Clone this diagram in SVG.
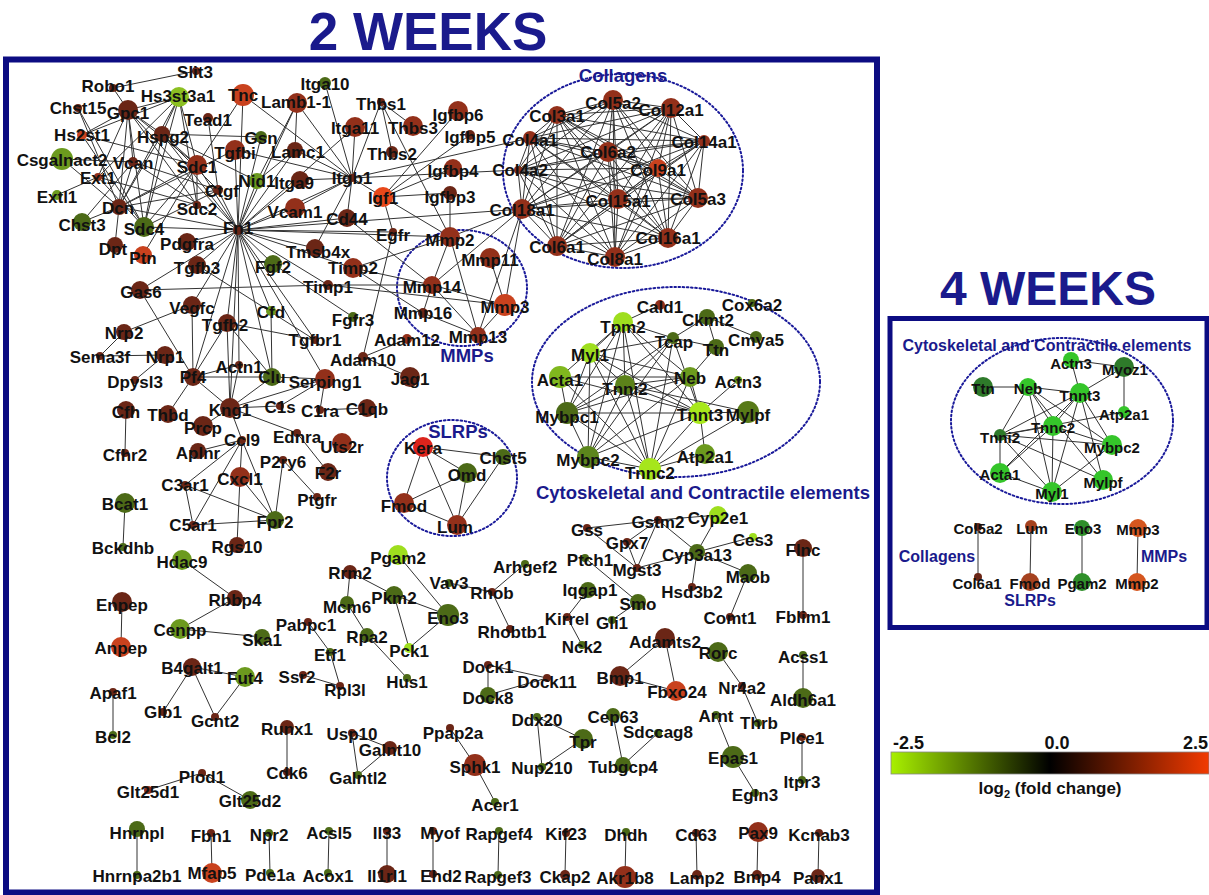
<svg xmlns="http://www.w3.org/2000/svg" width="1209" height="895" viewBox="0 0 1209 895">
<defs>
<linearGradient id="fc" x1="0" x2="1" y1="0" y2="0">
<stop offset="0" stop-color="#a8f000"/><stop offset="0.5" stop-color="#000"/><stop offset="1" stop-color="#f23a00"/>
</linearGradient>
<style>
text{font-family:"Liberation Sans",Arial,sans-serif;font-weight:bold}
.title{font-size:53px;fill:#1a1a8c;text-anchor:middle}
.panel{fill:none;stroke:#0c0c82;stroke-width:6}
.edges path{stroke:#333;stroke-width:1;fill:none}
.hull{fill:none;stroke:#1a1a9a;stroke-width:2;stroke-dasharray:1.6 2.6;stroke-linecap:round}
.glab{fill:#1a1a8c;text-anchor:middle;font-size:18.5px}
.glab4{fill:#1a1a8c;text-anchor:middle;font-size:16px}
.n2 text{font-size:17px;fill:#111;text-anchor:middle;dominant-baseline:central}
.n4 text{font-size:15px;fill:#111;text-anchor:middle;dominant-baseline:central}
.r1{fill:#6b2616}.r2{fill:#93301a}.r3{fill:#c9421e}.rk{fill:#dc241c}.ri{fill:#e8481a}
.g1{fill:#4c6a17}.g2{fill:#6c9a1e}.g3{fill:#9ede1e}
.w1{fill:#35c52a}.w2{fill:#2e7a2a}.w3{fill:#d5561f}.w4{fill:#a5421f}
.cb{font-size:18px;fill:#111}
</style>
</defs>
<rect width="1209" height="895" fill="#fff"/>
<text class="title" x="428" y="50">2 WEEKS</text>
<text class="title" x="1048" y="305" style="font-size:48px">4 WEEKS</text>
<rect class="panel" x="6" y="59.5" width="871" height="833"/>
<rect class="panel" x="890" y="318.5" width="317" height="309" style="stroke-width:5"/>
<g id="groups">
<ellipse class="hull" cx="623" cy="171" rx="120" ry="97"/>
<ellipse class="hull" cx="462" cy="288" rx="65" ry="58"/>
<ellipse class="hull" cx="452" cy="478" rx="65" ry="58"/>
<ellipse class="hull" cx="676" cy="382" rx="144" ry="95"/>
<ellipse class="hull" cx="1062" cy="421" rx="111" ry="83"/>
<text class="glab" x="623" y="82">Collagens</text>
<text class="glab" x="467" y="362">MMPs</text>
<text class="glab" x="458" y="438">SLRPs</text>
<text class="glab" x="703" y="499">Cytoskeletal and Contractile elements</text>
<text class="glab4" x="1047" y="351">Cytoskeletal and Contractile elements</text>
<text class="glab4" x="937" y="562">Collagens</text>
<text class="glab4" x="1164" y="562">MMPs</text>
<text class="glab4" x="1030" y="606">SLRPs</text>
</g>
<g id="connectors" class="edges">
<path d="M196 71L113 88"/><path d="M113 88L128 110"/>
<path d="M179 97L128 110"/><path d="M179 97L82 135"/><path d="M179 97L162 134"/><path d="M179 97L197 165"/><path d="M179 97L197 205"/><path d="M179 97L144 227"/><path d="M179 97L119 207"/><path d="M179 97L98 177"/>
<path d="M78 108L119 207"/><path d="M78 108L144 227"/>
<path d="M128 110L82 135"/><path d="M128 110L162 134"/><path d="M128 110L197 165"/><path d="M128 110L119 207"/><path d="M128 110L144 227"/><path d="M128 110L238 230"/><path d="M128 110L197 205"/><path d="M128 110L133 162"/>
<path d="M162 134L197 165"/><path d="M162 134L144 227"/><path d="M162 134L119 207"/><path d="M162 134L238 230"/><path d="M162 134L257 181"/><path d="M162 134L218 190"/><path d="M162 134L261 137"/>
<path d="M82 135L197 165"/><path d="M82 135L144 227"/>
<path d="M62 159L133 162"/><path d="M62 159L119 207"/>
<path d="M133 162L238 230"/><path d="M133 162L119 207"/><path d="M133 162L218 190"/>
<path d="M98 177L57 195"/><path d="M98 177L144 227"/><path d="M98 177L197 205"/><path d="M98 177L128 110"/>
<path d="M82 222L119 207"/><path d="M82 222L133 162"/>
<path d="M119 207L115 245"/><path d="M119 207L238 230"/><path d="M119 207L218 190"/><path d="M119 207L235 150"/><path d="M119 207L197 165"/>
<path d="M144 227L238 230"/><path d="M144 227L197 165"/><path d="M143 255L197 165"/><path d="M144 227L218 190"/>
<path d="M197 165L238 230"/><path d="M197 165L243 95"/><path d="M197 165L197 205"/><path d="M208 118L218 190"/>
<path d="M218 190L238 230"/><path d="M243 95L238 230"/><path d="M243 95L352 178"/>
<path d="M235 150L238 230"/><path d="M235 150L352 178"/><path d="M261 137L238 230"/>
<path d="M257 181L238 230"/><path d="M257 181L295 150"/><path d="M257 181L297 103"/>
<path d="M297 103L352 178"/><path d="M297 103L295 150"/><path d="M297 103L238 230"/>
<path d="M295 150L352 178"/><path d="M295 150L238 230"/>
<path d="M325 83L352 178"/><path d="M355 127L352 178"/><path d="M355 127L238 230"/>
<path d="M300 180L352 178"/><path d="M300 180L238 230"/><path d="M295 208L352 178"/><path d="M295 208L238 230"/>
<path d="M381 102L352 178"/><path d="M381 102L413 126"/><path d="M381 102L450 237"/><path d="M381 102L392 152"/>
<path d="M458 111L383 197"/><path d="M470 135L383 197"/><path d="M453 168L383 197"/><path d="M450 193L383 197"/><path d="M450 193L450 237"/>
<path d="M383 197L450 237"/><path d="M383 197L352 178"/><path d="M383 197L393 232"/>
<path d="M352 178L530 138"/><path d="M352 178L518 170"/><path d="M352 178L347 218"/><path d="M352 178L238 230"/><path d="M352 178L315 248"/>
<path d="M347 218L238 230"/><path d="M347 218L432 285"/>
<path d="M393 232L238 230"/><path d="M393 232L363 357"/><path d="M238 230L522 209"/>
<path d="M450 237L238 230"/><path d="M450 237L432 285"/><path d="M450 237L478 335"/><path d="M450 237L353 268"/><path d="M450 237L522 209"/>
<path d="M522 209L478 335"/><path d="M522 209L432 285"/><path d="M522 209L505 305"/><path d="M490 258L505 305"/>
<path d="M432 285L505 305"/><path d="M432 285L478 335"/><path d="M432 285L423 313"/><path d="M432 285L328 285"/><path d="M432 285L353 268"/>
<path d="M505 305L328 285"/><path d="M505 305L478 335"/><path d="M423 313L478 335"/><path d="M423 313L353 268"/>
<path d="M328 285L238 230"/><path d="M328 285L140 290"/><path d="M353 268L238 230"/><path d="M315 248L238 230"/>
<path d="M273 264L238 230"/><path d="M273 264L353 317"/>
<path d="M197 265L238 230"/><path d="M197 265L315 340"/><path d="M187 242L238 230"/>
<path d="M140 290L238 230"/><path d="M140 290L193 377"/>
<path d="M192 305L238 230"/><path d="M192 305L124 332"/><path d="M192 305L193 377"/>
<path d="M271 311L238 230"/><path d="M271 311L272 377"/>
<path d="M227 323L238 230"/><path d="M227 323L193 377"/><path d="M227 323L315 340"/><path d="M227 323L272 377"/><path d="M227 323L230 408"/>
<path d="M315 340L238 230"/>
<path d="M193 377L238 230"/><path d="M193 377L168 414"/><path d="M193 377L272 377"/><path d="M193 377L230 408"/><path d="M193 377L239 365"/>
<path d="M272 377L238 230"/><path d="M272 377L230 408"/><path d="M272 377L325 379"/>
<path d="M239 365L238 230"/><path d="M239 365L230 408"/>
<path d="M325 379L238 230"/><path d="M325 379L280 406"/><path d="M325 379L320 410"/><path d="M325 379L230 408"/>
<path d="M320 410L367 408"/><path d="M280 406L230 408"/>
<path d="M230 408L238 230"/><path d="M230 408L203 426"/><path d="M230 408L242 440"/><path d="M230 408L297 433"/>
<path d="M242 440L198 451"/><path d="M242 440L240 477"/><path d="M242 440L185 485"/><path d="M242 440L193 525"/><path d="M242 440L275 520"/>
<path d="M240 477L275 520"/><path d="M240 477L237 545"/><path d="M185 485L275 520"/><path d="M185 485L193 525"/><path d="M193 525L275 520"/>
<path d="M275 520L283 460"/><path d="M297 433L328 472"/><path d="M283 460L317 497"/>
<path d="M126 410L125 453"/><path d="M124 332L100 356"/><path d="M100 356L165 355"/><path d="M165 355L135 380"/>
<path d="M363 357L407 339"/><path d="M363 357L410 377"/><path d="M125 503L123 547"/>
<path d="M613 100L557 115"/><path d="M613 100L671 108"/><path d="M613 100L530 138"/><path d="M613 100L704 141"/><path d="M613 100L608 152"/><path d="M613 100L518 170"/><path d="M613 100L658 168"/><path d="M613 100L618 199"/><path d="M613 100L698 198"/><path d="M613 100L522 209"/><path d="M613 100L668 238"/><path d="M613 100L557 246"/><path d="M613 100L615 257"/>
<path d="M557 115L671 108"/><path d="M557 115L530 138"/><path d="M557 115L704 141"/><path d="M557 115L608 152"/><path d="M557 115L518 170"/><path d="M557 115L658 168"/><path d="M557 115L618 199"/><path d="M557 115L698 198"/><path d="M557 115L522 209"/><path d="M557 115L668 238"/><path d="M557 115L557 246"/><path d="M557 115L615 257"/>
<path d="M671 108L530 138"/><path d="M671 108L704 141"/><path d="M671 108L608 152"/><path d="M671 108L518 170"/><path d="M671 108L658 168"/><path d="M671 108L618 199"/><path d="M671 108L698 198"/><path d="M671 108L522 209"/><path d="M671 108L668 238"/><path d="M671 108L557 246"/><path d="M671 108L615 257"/>
<path d="M530 138L704 141"/><path d="M530 138L608 152"/><path d="M530 138L518 170"/><path d="M530 138L658 168"/><path d="M530 138L618 199"/><path d="M530 138L698 198"/><path d="M530 138L522 209"/><path d="M530 138L668 238"/><path d="M530 138L557 246"/><path d="M530 138L615 257"/>
<path d="M704 141L608 152"/><path d="M704 141L518 170"/><path d="M704 141L658 168"/><path d="M704 141L618 199"/><path d="M704 141L698 198"/><path d="M704 141L522 209"/><path d="M704 141L668 238"/><path d="M704 141L557 246"/><path d="M704 141L615 257"/>
<path d="M608 152L518 170"/><path d="M608 152L658 168"/><path d="M608 152L618 199"/><path d="M608 152L698 198"/><path d="M608 152L522 209"/><path d="M608 152L668 238"/><path d="M608 152L557 246"/><path d="M608 152L615 257"/>
<path d="M518 170L658 168"/><path d="M518 170L618 199"/><path d="M518 170L698 198"/><path d="M518 170L522 209"/><path d="M518 170L668 238"/><path d="M518 170L557 246"/><path d="M518 170L615 257"/>
<path d="M658 168L618 199"/><path d="M658 168L698 198"/><path d="M658 168L522 209"/><path d="M658 168L668 238"/><path d="M658 168L557 246"/><path d="M658 168L615 257"/>
<path d="M618 199L698 198"/><path d="M618 199L522 209"/><path d="M618 199L668 238"/><path d="M618 199L557 246"/><path d="M618 199L615 257"/>
<path d="M698 198L522 209"/><path d="M698 198L668 238"/><path d="M698 198L557 246"/><path d="M698 198L615 257"/>
<path d="M522 209L668 238"/><path d="M522 209L557 246"/><path d="M522 209L615 257"/>
<path d="M668 238L557 246"/><path d="M668 238L615 257"/><path d="M557 246L615 257"/>
<path d="M660 305L623 322"/><path d="M707 317L673 338"/><path d="M707 317L716 347"/><path d="M707 317L756 337"/>
<path d="M623 322L673 338"/><path d="M623 322L590 353"/><path d="M623 322L625 385"/><path d="M623 322L567 413"/><path d="M623 322L588 457"/><path d="M623 322L650 469"/><path d="M623 322L700 413"/><path d="M623 322L690 377"/>
<path d="M673 338L716 347"/><path d="M673 338L590 353"/><path d="M673 338L625 385"/><path d="M673 338L567 413"/><path d="M673 338L588 457"/><path d="M673 338L650 469"/><path d="M673 338L700 413"/>
<path d="M716 347L690 377"/>
<path d="M690 377L700 413"/><path d="M690 377L650 469"/><path d="M690 377L567 413"/><path d="M690 377L588 457"/><path d="M690 377L560 377"/><path d="M690 377L625 385"/><path d="M690 377L590 353"/>
<path d="M738 380L700 413"/>
<path d="M590 353L567 413"/><path d="M590 353L588 457"/><path d="M590 353L650 469"/><path d="M590 353L700 413"/><path d="M590 353L625 385"/>
<path d="M560 377L567 413"/><path d="M560 377L700 413"/><path d="M560 377L650 469"/><path d="M560 377L623 322"/>
<path d="M625 385L567 413"/><path d="M625 385L588 457"/><path d="M625 385L650 469"/><path d="M625 385L700 413"/><path d="M625 385L748 412"/>
<path d="M567 413L700 413"/><path d="M567 413L588 457"/><path d="M567 413L650 469"/>
<path d="M700 413L748 412"/><path d="M700 413L705 454"/><path d="M700 413L650 469"/><path d="M700 413L588 457"/>
<path d="M748 412L650 469"/><path d="M705 454L650 469"/><path d="M588 457L650 469"/>
<path d="M423 447L503 457"/><path d="M423 447L467 473"/><path d="M423 447L404 503"/><path d="M423 447L457 525"/><path d="M467 473L404 503"/><path d="M467 473L457 525"/><path d="M503 457L457 525"/><path d="M404 503L457 525"/>
<path d="M182 560L235 598"/><path d="M235 598L180 629"/><path d="M180 629L262 637"/><path d="M122 602L121 647"/>
<path d="M192 667L245 677"/><path d="M192 667L163 712"/><path d="M192 667L215 717"/><path d="M245 677L215 717"/>
<path d="M113 692L113 735"/><path d="M287 727L287 772"/>
<path d="M352 733L390 748"/><path d="M352 733L358 775"/><path d="M390 748L358 775"/>
<path d="M202 773L148 790"/><path d="M202 773L250 800"/>
<path d="M137 829L137 875"/><path d="M211 833L212 873"/><path d="M269 833L270 873"/><path d="M329 831L328 873"/><path d="M387 831L387 874"/><path d="M433 831L433 874"/>
<path d="M398 555L448 615"/><path d="M350 572L394 595"/><path d="M350 572L347 603"/><path d="M394 595L448 615"/><path d="M394 595L409 648"/><path d="M448 615L409 648"/>
<path d="M347 603L367 635"/><path d="M367 635L407 678"/><path d="M308 622L330 652"/><path d="M330 652L340 686"/><path d="M303 675L340 686"/>
<path d="M449 583L492 592"/><path d="M525 564L492 592"/><path d="M492 592L510 629"/>
<path d="M488 665L488 695"/><path d="M488 665L547 678"/><path d="M488 695L547 678"/>
<path d="M588 590L567 617"/><path d="M567 617L582 645"/>
<path d="M587 528L658 520"/><path d="M587 528L637 568"/><path d="M627 542L658 520"/><path d="M627 542L637 568"/><path d="M658 520L637 568"/><path d="M658 520L718 515"/><path d="M658 520L697 552"/>
<path d="M697 552L718 515"/><path d="M697 552L753 537"/><path d="M697 552L748 573"/><path d="M697 552L637 568"/><path d="M697 552L692 587"/><path d="M748 573L730 617"/>
<path d="M585 558L638 602"/><path d="M638 602L612 620"/><path d="M803 548L803 615"/>
<path d="M665 638L620 676"/><path d="M665 638L676 691"/><path d="M620 676L676 691"/>
<path d="M718 652L742 686"/><path d="M742 686L758 723"/><path d="M803 655L803 698"/>
<path d="M537 717L583 739"/><path d="M537 717L542 767"/><path d="M542 767L583 739"/>
<path d="M613 715L623 765"/><path d="M658 733L623 765"/>
<path d="M716 715L733 757"/><path d="M733 757L755 793"/><path d="M802 737L802 780"/>
<path d="M450 728L475 765"/><path d="M475 765L495 802"/>
<path d="M499 831L498 875"/><path d="M566 833L565 875"/><path d="M626 832L625 877"/><path d="M696 833L697 875"/><path d="M758 832L757 875"/><path d="M819 833L818 876"/>
<path d="M983 387L1028 387"/><path d="M1028 387L1080 393"/><path d="M1071 360L1124 367"/><path d="M1071 360L1080 393"/><path d="M1124 367L1080 393"/><path d="M1124 367L1124 412"/>
<path d="M1028 387L1000 435"/><path d="M1028 387L1053 426"/><path d="M1028 387L1112 445"/><path d="M1028 387L1052 492"/><path d="M1028 387L1103 480"/>
<path d="M1080 393L1000 435"/><path d="M1080 393L1053 426"/><path d="M1080 393L1112 445"/><path d="M1080 393L1052 492"/><path d="M1080 393L1000 473"/><path d="M1080 393L1103 480"/>
<path d="M1000 435L1053 426"/><path d="M1000 435L1112 445"/><path d="M1000 435L1000 473"/><path d="M1000 435L1052 492"/><path d="M1000 435L1103 480"/><path d="M1000 435L1124 412"/>
<path d="M1053 426L1000 473"/><path d="M1053 426L1052 492"/><path d="M1053 426L1112 445"/><path d="M1000 473L1052 492"/><path d="M1052 492L1112 445"/>
<path d="M978 527L978 577"/><path d="M1031 526L1030 582"/><path d="M1082 528L1082 582"/><path d="M1138 528L1137 582"/>
</g>
<g id="nodes-2w" class="n2">
<g id="n-Slit3"><circle class="r1" cx="196" cy="71" r="4"/><text x="195" y="72">Slit3</text></g>
<g id="n-Robo1"><circle class="r1" cx="113" cy="88" r="4"/><text x="108" y="86">Robo1</text></g>
<g id="n-Hs3st3a1"><circle class="g2" cx="179" cy="97" r="10" style="fill:#8cc022"/><text x="178" y="96">Hs3st3a1</text></g>
<g id="n-Tnc"><circle class="r3" cx="243" cy="95" r="11"/><text x="243" y="95">Tnc</text></g>
<g id="n-Chst15"><circle class="r1" cx="78" cy="108" r="4"/><text x="78" y="108">Chst15</text></g>
<g id="n-Gpc1"><circle class="r1" cx="128" cy="110" r="10"/><text x="128" y="113">Gpc1</text></g>
<g id="n-Tead1"><circle class="r1" cx="208" cy="118" r="5"/><text x="208" y="120">Tead1</text></g>
<g id="n-Hs2st1"><circle class="r3" cx="82" cy="135" r="5"/><text x="82" y="135">Hs2st1</text></g>
<g id="n-Hspg2"><circle class="r1" cx="162" cy="134" r="8"/><text x="163" y="137">Hspg2</text></g>
<g id="n-Gsn"><circle class="g1" cx="261" cy="137" r="6"/><text x="261" y="138">Gsn</text></g>
<g id="n-Tgfbi"><circle class="r2" cx="235" cy="150" r="10"/><text x="235" y="153">Tgfbi</text></g>
<g id="n-Csgalnact2"><circle class="g2" cx="62" cy="159" r="11"/><text x="62" y="160">Csgalnact2</text></g>
<g id="n-Vcan"><circle class="r1" cx="133" cy="162" r="5"/><text x="133" y="163">Vcan</text></g>
<g id="n-Sdc1"><circle class="r2" cx="197" cy="165" r="10"/><text x="197" y="167">Sdc1</text></g>
<g id="n-Ext1"><circle class="r2" cx="98" cy="177" r="4"/><text x="98" y="178">Ext1</text></g>
<g id="n-Nid1"><circle class="g2" cx="257" cy="181" r="8"/><text x="257" y="181">Nid1</text></g>
<g id="n-Extl1"><circle class="g2" cx="57" cy="195" r="5"/><text x="57" y="197">Extl1</text></g>
<g id="n-Ctgf"><circle class="r1" cx="218" cy="190" r="5"/><text x="222" y="191">Ctgf</text></g>
<g id="n-Dcn"><circle class="r1" cx="119" cy="207" r="8"/><text x="118" y="208">Dcn</text></g>
<g id="n-Sdc2"><circle class="r1" cx="197" cy="205" r="4"/><text x="197" y="209">Sdc2</text></g>
<g id="n-Chst3"><circle class="g1" cx="82" cy="222" r="9"/><text x="82" y="225">Chst3</text></g>
<g id="n-Sdc4"><circle class="g1" cx="144" cy="227" r="10"/><text x="144" y="229">Sdc4</text></g>
<g id="n-Fn1"><circle class="r1" cx="238" cy="230" r="5"/><text x="238" y="228">Fn1</text></g>
<g id="n-Dpt"><circle class="r1" cx="115" cy="245" r="8"/><text x="113" y="249">Dpt</text></g>
<g id="n-Ptn"><circle class="r3" cx="143" cy="255" r="9"/><text x="143" y="258">Ptn</text></g>
<g id="n-Pdgfra"><circle class="r1" cx="187" cy="242" r="9"/><text x="187" y="244">Pdgfra</text></g>
<g id="n-Tgfb3"><circle class="r1" cx="197" cy="265" r="9"/><text x="197" y="268">Tgfb3</text></g>
<g id="n-Fgf2"><circle class="g1" cx="273" cy="264" r="9"/><text x="273" y="267">Fgf2</text></g>
<g id="n-Lamb1-1"><circle class="r2" cx="297" cy="103" r="10"/><text x="296" y="102">Lamb1-1</text></g>
<g id="n-Itga10"><circle class="g1" cx="325" cy="83" r="6"/><text x="325" y="84">Itga10</text></g>
<g id="n-Thbs1"><circle class="r1" cx="381" cy="102" r="4"/><text x="381" y="104">Thbs1</text></g>
<g id="n-Igfbp6"><circle class="r2" cx="458" cy="111" r="10"/><text x="458" y="115">Igfbp6</text></g>
<g id="n-Itga11"><circle class="r2" cx="355" cy="127" r="10"/><text x="355" y="128">Itga11</text></g>
<g id="n-Thbs3"><circle class="r2" cx="413" cy="126" r="10"/><text x="413" y="128">Thbs3</text></g>
<g id="n-Igfbp5"><circle class="r1" cx="470" cy="135" r="5"/><text x="470" y="137">Igfbp5</text></g>
<g id="n-Lamc1"><circle class="r1" cx="295" cy="150" r="8"/><text x="298" y="152">Lamc1</text></g>
<g id="n-Thbs2"><circle class="r1" cx="392" cy="152" r="6"/><text x="392" y="154">Thbs2</text></g>
<g id="n-Igfbp4"><circle class="r2" cx="453" cy="168" r="9"/><text x="453" y="171">Igfbp4</text></g>
<g id="n-Itga9"><circle class="r1" cx="300" cy="180" r="9"/><text x="294" y="183">Itga9</text></g>
<g id="n-Itgb1"><circle class="r1" cx="352" cy="178" r="4"/><text x="352" y="178">Itgb1</text></g>
<g id="n-Igf1"><circle class="ri" cx="383" cy="197" r="10"/><text x="383" y="198">Igf1</text></g>
<g id="n-Igfbp3"><circle class="r1" cx="450" cy="193" r="7"/><text x="450" y="197">Igfbp3</text></g>
<g id="n-Vcam1"><circle class="r2" cx="295" cy="208" r="10"/><text x="295" y="212">Vcam1</text></g>
<g id="n-Cd44"><circle class="r1" cx="347" cy="218" r="9"/><text x="347" y="219">Cd44</text></g>
<g id="n-Egfr"><circle class="r1" cx="393" cy="232" r="4"/><text x="393" y="235">Egfr</text></g>
<g id="n-Mmp2"><circle class="r2" cx="450" cy="237" r="10"/><text x="450" y="240">Mmp2</text></g>
<g id="n-Tmsb4x"><circle class="r1" cx="315" cy="248" r="9"/><text x="318" y="252">Tmsb4x</text></g>
<g id="n-Mmp11"><circle class="r2" cx="490" cy="258" r="10"/><text x="490" y="260">Mmp11</text></g>
<g id="n-Timp2"><circle class="r2" cx="353" cy="268" r="10"/><text x="353" y="268">Timp2</text></g>
<g id="n-Gas6"><circle class="r1" cx="140" cy="290" r="9"/><text x="141" y="292">Gas6</text></g>
<g id="n-Timp1"><circle class="r1" cx="328" cy="285" r="5"/><text x="328" y="287">Timp1</text></g>
<g id="n-Mmp14"><circle class="r2" cx="432" cy="285" r="9"/><text x="432" y="287">Mmp14</text></g>
<g id="n-Mmp3"><circle class="r3" cx="505" cy="305" r="11"/><text x="505" y="307">Mmp3</text></g>
<g id="n-Vegfc"><circle class="r1" cx="192" cy="305" r="9"/><text x="192" y="308">Vegfc</text></g>
<g id="n-Cfd"><circle class="g2" cx="271" cy="311" r="5"/><text x="271" y="312">Cfd</text></g>
<g id="n-Mmp16"><circle class="r1" cx="423" cy="313" r="5"/><text x="423" y="313">Mmp16</text></g>
<g id="n-Fgfr3"><circle class="g1" cx="353" cy="317" r="5"/><text x="353" y="320">Fgfr3</text></g>
<g id="n-Tgfb2"><circle class="r1" cx="227" cy="323" r="9"/><text x="225" y="325">Tgfb2</text></g>
<g id="n-Nrp2"><circle class="r1" cx="124" cy="332" r="8"/><text x="124" y="333">Nrp2</text></g>
<g id="n-Tgfbr1"><circle class="r1" cx="315" cy="340" r="4"/><text x="315" y="340">Tgfbr1</text></g>
<g id="n-Adam12"><circle class="r2" cx="407" cy="339" r="5"/><text x="407" y="340">Adam12</text></g>
<g id="n-Mmp13"><circle class="r2" cx="478" cy="335" r="8"/><text x="478" y="337">Mmp13</text></g>
<g id="n-Sema3f"><circle class="r1" cx="100" cy="356" r="4"/><text x="100" y="357">Sema3f</text></g>
<g id="n-Nrp1"><circle class="r1" cx="165" cy="355" r="9"/><text x="165" y="357">Nrp1</text></g>
<g id="n-Adam10"><circle class="r1" cx="363" cy="357" r="5"/><text x="363" y="360">Adam10</text></g>
<g id="n-Actn1"><circle class="r1" cx="239" cy="365" r="4"/><text x="239" y="367">Actn1</text></g>
<g id="n-Pf4"><circle class="r1" cx="193" cy="377" r="9"/><text x="193" y="377">Pf4</text></g>
<g id="n-Clu"><circle class="g1" cx="272" cy="377" r="9"/><text x="272" y="377">Clu</text></g>
<g id="n-Serping1"><circle class="r2" cx="325" cy="379" r="10"/><text x="325" y="382">Serping1</text></g>
<g id="n-Jag1"><circle class="r1" cx="410" cy="377" r="10"/><text x="410" y="379">Jag1</text></g>
<g id="n-Dpysl3"><circle class="r1" cx="135" cy="380" r="4"/><text x="135" y="382">Dpysl3</text></g>
<g id="n-Cfh"><circle class="r1" cx="126" cy="410" r="9"/><text x="126" y="412">Cfh</text></g>
<g id="n-Thbd"><circle class="r1" cx="168" cy="414" r="9"/><text x="168" y="415">Thbd</text></g>
<g id="n-Kng1"><circle class="r1" cx="230" cy="408" r="10"/><text x="230" y="410">Kng1</text></g>
<g id="n-C1s"><circle class="r1" cx="280" cy="406" r="4"/><text x="280" y="407">C1s</text></g>
<g id="n-C1ra"><circle class="r1" cx="320" cy="410" r="4"/><text x="320" y="411">C1ra</text></g>
<g id="n-C1qb"><circle class="r1" cx="367" cy="408" r="9"/><text x="367" y="409">C1qb</text></g>
<g id="n-Prcp"><circle class="r1" cx="203" cy="426" r="10"/><text x="203" y="428">Prcp</text></g>
<g id="n-Ccl9"><circle class="r1" cx="242" cy="440" r="4"/><text x="242" y="440">Ccl9</text></g>
<g id="n-Ednra"><circle class="r1" cx="297" cy="433" r="4"/><text x="297" y="437">Ednra</text></g>
<g id="n-Uts2r"><circle class="r2" cx="342" cy="443" r="10"/><text x="342" y="447">Uts2r</text></g>
<g id="n-Cfhr2"><circle class="r1" cx="125" cy="453" r="4"/><text x="125" y="455">Cfhr2</text></g>
<g id="n-Aplnr"><circle class="r1" cx="198" cy="451" r="8"/><text x="198" y="453">Aplnr</text></g>
<g id="n-P2ry6"><circle class="r1" cx="283" cy="460" r="4"/><text x="283" y="462">P2ry6</text></g>
<g id="n-F2r"><circle class="r1" cx="328" cy="472" r="9"/><text x="328" y="473">F2r</text></g>
<g id="n-C3ar1"><circle class="r1" cx="185" cy="485" r="4"/><text x="185" y="485">C3ar1</text></g>
<g id="n-Cxcl1"><circle class="r2" cx="240" cy="477" r="10"/><text x="240" y="479">Cxcl1</text></g>
<g id="n-Ptgfr"><circle class="r1" cx="317" cy="497" r="4"/><text x="317" y="500">Ptgfr</text></g>
<g id="n-Bcat1"><circle class="g1" cx="125" cy="503" r="10"/><text x="125" y="504">Bcat1</text></g>
<g id="n-C5ar1"><circle class="r1" cx="193" cy="525" r="4"/><text x="193" y="525">C5ar1</text></g>
<g id="n-Fpr2"><circle class="g1" cx="275" cy="520" r="9"/><text x="275" y="522">Fpr2</text></g>
<g id="n-Col5a2"><circle class="r2" cx="613" cy="100" r="10"/><text x="613" y="103">Col5a2</text></g>
<g id="n-Col3a1"><circle class="r2" cx="557" cy="115" r="9"/><text x="557" y="116">Col3a1</text></g>
<g id="n-Col12a1"><circle class="r2" cx="671" cy="108" r="10"/><text x="671" y="110">Col12a1</text></g>
<g id="n-Col4a1"><circle class="r2" cx="530" cy="138" r="7"/><text x="530" y="140">Col4a1</text></g>
<g id="n-Col14a1"><circle class="r2" cx="704" cy="141" r="6"/><text x="704" y="142">Col14a1</text></g>
<g id="n-Col6a2"><circle class="r2" cx="608" cy="152" r="10"/><text x="608" y="152">Col6a2</text></g>
<g id="n-Col4a2"><circle class="r2" cx="518" cy="170" r="4"/><text x="520" y="170">Col4a2</text></g>
<g id="n-Col9a1"><circle class="r3" cx="658" cy="168" r="9"/><text x="658" y="170">Col9a1</text></g>
<g id="n-Col15a1"><circle class="r2" cx="618" cy="199" r="10"/><text x="618" y="201">Col15a1</text></g>
<g id="n-Col5a3"><circle class="r2" cx="698" cy="198" r="10"/><text x="698" y="199">Col5a3</text></g>
<g id="n-Col18a1"><circle class="r2" cx="522" cy="209" r="10"/><text x="522" y="210">Col18a1</text></g>
<g id="n-Col16a1"><circle class="r2" cx="668" cy="238" r="10"/><text x="668" y="238">Col16a1</text></g>
<g id="n-Col6a1"><circle class="r2" cx="557" cy="246" r="10"/><text x="557" y="247">Col6a1</text></g>
<g id="n-Col8a1"><circle class="r2" cx="615" cy="257" r="10"/><text x="615" y="259">Col8a1</text></g>
<g id="n-Cald1"><circle class="r2" cx="660" cy="305" r="5"/><text x="660" y="307">Cald1</text></g>
<g id="n-Cox6a2"><circle class="g1" cx="752" cy="303" r="4"/><text x="752" y="305">Cox6a2</text></g>
<g id="n-Ckmt2"><circle class="g1" cx="707" cy="317" r="8"/><text x="708" y="320">Ckmt2</text></g>
<g id="n-Tpm2"><circle class="g3" cx="623" cy="322" r="10"/><text x="623" y="327">Tpm2</text></g>
<g id="n-Tcap"><circle class="g1" cx="673" cy="338" r="6"/><text x="674" y="342">Tcap</text></g>
<g id="n-Cmya5"><circle class="g1" cx="756" cy="337" r="6"/><text x="756" y="340">Cmya5</text></g>
<g id="n-Ttn"><circle class="g1" cx="716" cy="347" r="8"/><text x="716" y="350">Ttn</text></g>
<g id="n-Myl1"><circle class="g3" cx="590" cy="353" r="10"/><text x="590" y="355">Myl1</text></g>
<g id="n-Acta1"><circle class="g2" cx="560" cy="377" r="11" style="fill:#80b81e"/><text x="560" y="380">Acta1</text></g>
<g id="n-Neb"><circle class="g2" cx="690" cy="377" r="10"/><text x="690" y="378">Neb</text></g>
<g id="n-Actn3"><circle class="g2" cx="738" cy="380" r="4"/><text x="738" y="382">Actn3</text></g>
<g id="n-Tnni2"><circle class="g2" cx="625" cy="385" r="10" style="fill:#5c821a"/><text x="625" y="389">Tnni2</text></g>
<g id="n-Mybpc1"><circle class="g1" cx="567" cy="413" r="11"/><text x="567" y="417">Mybpc1</text></g>
<g id="n-Tnnt3"><circle class="g3" cx="700" cy="413" r="11" style="fill:#a8e81c"/><text x="700" y="415">Tnnt3</text></g>
<g id="n-Mylpf"><circle class="g1" cx="748" cy="412" r="11" style="fill:#587a18"/><text x="748" y="415">Mylpf</text></g>
<g id="n-Atp2a1"><circle class="g2" cx="705" cy="454" r="10"/><text x="705" y="457">Atp2a1</text></g>
<g id="n-Mybpc2"><circle class="g2" cx="588" cy="457" r="11" style="fill:#5c861c"/><text x="588" y="460">Mybpc2</text></g>
<g id="n-Tnnc2"><circle class="g3" cx="650" cy="469" r="11" style="fill:#a6e61c"/><text x="650" y="473">Tnnc2</text></g>
<g id="n-Kera"><circle class="rk" cx="423" cy="447" r="10"/><text x="423" y="448">Kera</text></g>
<g id="n-Chst5"><circle class="g1" cx="503" cy="457" r="8"/><text x="503" y="458">Chst5</text></g>
<g id="n-Omd"><circle class="g1" cx="467" cy="473" r="10"/><text x="467" y="475">Omd</text></g>
<g id="n-Fmod"><circle class="r2" cx="404" cy="503" r="10"/><text x="404" y="506">Fmod</text></g>
<g id="n-Lum"><circle class="r2" cx="457" cy="525" r="10"/><text x="455" y="527">Lum</text></g>
<g id="n-Bckdhb"><circle class="g1" cx="123" cy="547" r="4"/><text x="123" y="548">Bckdhb</text></g>
<g id="n-Rgs10"><circle class="r1" cx="237" cy="545" r="8"/><text x="237" y="547">Rgs10</text></g>
<g id="n-Hdac9"><circle class="g2" cx="182" cy="560" r="10"/><text x="182" y="562">Hdac9</text></g>
<g id="n-Rbbp4"><circle class="r1" cx="235" cy="598" r="8"/><text x="235" y="600">Rbbp4</text></g>
<g id="n-Enpep"><circle class="r1" cx="122" cy="602" r="10"/><text x="122" y="605">Enpep</text></g>
<g id="n-Cenpp"><circle class="g2" cx="180" cy="629" r="10"/><text x="180" y="630">Cenpp</text></g>
<g id="n-Ska1"><circle class="g1" cx="262" cy="637" r="8"/><text x="262" y="640">Ska1</text></g>
<g id="n-Anpep"><circle class="r3" cx="121" cy="647" r="10"/><text x="121" y="648">Anpep</text></g>
<g id="n-B4galt1"><circle class="r1" cx="192" cy="667" r="9"/><text x="192" y="668">B4galt1</text></g>
<g id="n-Fut4"><circle class="g2" cx="245" cy="677" r="10"/><text x="245" y="678">Fut4</text></g>
<g id="n-Apaf1"><circle class="r1" cx="113" cy="692" r="4"/><text x="113" y="693">Apaf1</text></g>
<g id="n-Glb1"><circle class="r1" cx="163" cy="712" r="4"/><text x="163" y="712">Glb1</text></g>
<g id="n-Gcnt2"><circle class="r1" cx="215" cy="717" r="4"/><text x="215" y="721">Gcnt2</text></g>
<g id="n-Bcl2"><circle class="g1" cx="113" cy="735" r="4"/><text x="113" y="737">Bcl2</text></g>
<g id="n-Runx1"><circle class="r1" cx="287" cy="727" r="7"/><text x="287" y="729">Runx1</text></g>
<g id="n-Usp10"><circle class="r1" cx="352" cy="733" r="4"/><text x="352" y="734">Usp10</text></g>
<g id="n-Galnt10"><circle class="r1" cx="390" cy="748" r="7"/><text x="390" y="750">Galnt10</text></g>
<g id="n-Cdk6"><circle class="r1" cx="287" cy="772" r="4"/><text x="287" y="773">Cdk6</text></g>
<g id="n-Galntl2"><circle class="g1" cx="358" cy="775" r="4"/><text x="358" y="778">Galntl2</text></g>
<g id="n-Plod1"><circle class="r1" cx="202" cy="773" r="4"/><text x="202" y="777">Plod1</text></g>
<g id="n-Glt25d1"><circle class="r2" cx="148" cy="790" r="4"/><text x="148" y="792">Glt25d1</text></g>
<g id="n-Glt25d2"><circle class="g1" cx="250" cy="800" r="9"/><text x="250" y="801">Glt25d2</text></g>
<g id="n-Hnrnpl"><circle class="g1" cx="137" cy="829" r="8"/><text x="137" y="833">Hnrnpl</text></g>
<g id="n-Fbn1"><circle class="r1" cx="211" cy="833" r="4"/><text x="211" y="836">Fbn1</text></g>
<g id="n-Npr2"><circle class="g1" cx="269" cy="833" r="4"/><text x="269" y="835">Npr2</text></g>
<g id="n-Acsl5"><circle class="g1" cx="329" cy="831" r="4"/><text x="329" y="833">Acsl5</text></g>
<g id="n-Il33"><circle class="r1" cx="387" cy="831" r="4"/><text x="387" y="833">Il33</text></g>
<g id="n-Myof"><circle class="r1" cx="433" cy="831" r="4"/><text x="440" y="833">Myof</text></g>
<g id="n-Hnrnpa2b1"><circle class="g1" cx="137" cy="875" r="4"/><text x="137" y="876">Hnrnpa2b1</text></g>
<g id="n-Mfap5"><circle class="r3" cx="212" cy="873" r="10"/><text x="212" y="873">Mfap5</text></g>
<g id="n-Pde1a"><circle class="g1" cx="270" cy="873" r="4"/><text x="270" y="875">Pde1a</text></g>
<g id="n-Acox1"><circle class="g1" cx="328" cy="873" r="4"/><text x="328" y="876">Acox1</text></g>
<g id="n-Il1rl1"><circle class="r1" cx="387" cy="874" r="9"/><text x="387" y="876">Il1rl1</text></g>
<g id="n-Ehd2"><circle class="r1" cx="433" cy="874" r="4"/><text x="441" y="876">Ehd2</text></g>
<g id="n-Pgam2"><circle class="g3" cx="398" cy="555" r="10"/><text x="398" y="558">Pgam2</text></g>
<g id="n-Arhgef2"><circle class="g1" cx="525" cy="564" r="4"/><text x="525" y="567">Arhgef2</text></g>
<g id="n-Rrm2"><circle class="r1" cx="350" cy="572" r="7"/><text x="350" y="573">Rrm2</text></g>
<g id="n-Vav3"><circle class="g1" cx="449" cy="583" r="4"/><text x="449" y="583">Vav3</text></g>
<g id="n-Rhob"><circle class="r1" cx="492" cy="592" r="4"/><text x="492" y="593">Rhob</text></g>
<g id="n-Pkm2"><circle class="g1" cx="394" cy="595" r="9"/><text x="394" y="598">Pkm2</text></g>
<g id="n-Mcm6"><circle class="g1" cx="347" cy="603" r="7"/><text x="347" y="607">Mcm6</text></g>
<g id="n-Eno3"><circle class="g1" cx="448" cy="615" r="11"/><text x="448" y="618">Eno3</text></g>
<g id="n-Pabpc1"><circle class="r1" cx="308" cy="622" r="4"/><text x="306" y="625">Pabpc1</text></g>
<g id="n-Rpa2"><circle class="g1" cx="367" cy="635" r="7"/><text x="367" y="637">Rpa2</text></g>
<g id="n-Rhobtb1"><circle class="r1" cx="510" cy="629" r="4"/><text x="512" y="632">Rhobtb1</text></g>
<g id="n-Etf1"><circle class="g1" cx="330" cy="652" r="4"/><text x="330" y="655">Etf1</text></g>
<g id="n-Pck1"><circle class="g3" cx="409" cy="648" r="5"/><text x="409" y="651">Pck1</text></g>
<g id="n-Ssr2"><circle class="r1" cx="303" cy="675" r="4"/><text x="297" y="677">Ssr2</text></g>
<g id="n-Hus1"><circle class="g1" cx="407" cy="678" r="4"/><text x="407" y="682">Hus1</text></g>
<g id="n-Rpl3l"><circle class="r1" cx="340" cy="686" r="4"/><text x="345" y="690">Rpl3l</text></g>
<g id="n-Dock1"><circle class="r1" cx="488" cy="665" r="4"/><text x="488" y="667">Dock1</text></g>
<g id="n-Dock11"><circle class="r1" cx="547" cy="678" r="4"/><text x="547" y="682">Dock11</text></g>
<g id="n-Dock8"><circle class="g1" cx="488" cy="695" r="8"/><text x="488" y="698">Dock8</text></g>
<g id="n-Gss"><circle class="r1" cx="587" cy="528" r="4"/><text x="587" y="530">Gss</text></g>
<g id="n-Gstm2"><circle class="r1" cx="658" cy="520" r="4"/><text x="658" y="522">Gstm2</text></g>
<g id="n-Cyp2e1"><circle class="g3" cx="718" cy="515" r="9"/><text x="718" y="518">Cyp2e1</text></g>
<g id="n-Gpx7"><circle class="r1" cx="627" cy="542" r="4"/><text x="627" y="543">Gpx7</text></g>
<g id="n-Ces3"><circle class="g3" cx="753" cy="537" r="4"/><text x="753" y="540">Ces3</text></g>
<g id="n-Cyp3a13"><circle class="g1" cx="697" cy="552" r="8"/><text x="697" y="555">Cyp3a13</text></g>
<g id="n-Ptch1"><circle class="g1" cx="585" cy="558" r="4"/><text x="590" y="560">Ptch1</text></g>
<g id="n-Mgst3"><circle class="r1" cx="637" cy="568" r="4"/><text x="637" y="570">Mgst3</text></g>
<g id="n-Flnc"><circle class="r1" cx="803" cy="548" r="9"/><text x="803" y="550">Flnc</text></g>
<g id="n-Maob"><circle class="g1" cx="748" cy="573" r="9"/><text x="748" y="577">Maob</text></g>
<g id="n-Iqgap1"><circle class="g1" cx="588" cy="590" r="8"/><text x="590" y="590">Iqgap1</text></g>
<g id="n-Hsd3b2"><circle class="r1" cx="692" cy="587" r="4"/><text x="692" y="592">Hsd3b2</text></g>
<g id="n-Smo"><circle class="g1" cx="638" cy="602" r="8"/><text x="638" y="604">Smo</text></g>
<g id="n-Kirrel"><circle class="r1" cx="567" cy="617" r="4"/><text x="567" y="619">Kirrel</text></g>
<g id="n-Gli1"><circle class="g1" cx="612" cy="620" r="4"/><text x="612" y="623">Gli1</text></g>
<g id="n-Comt1"><circle class="r1" cx="730" cy="617" r="4"/><text x="730" y="618">Comt1</text></g>
<g id="n-Fblim1"><circle class="r1" cx="803" cy="615" r="4"/><text x="803" y="617">Fblim1</text></g>
<g id="n-Adamts2"><circle class="r1" cx="665" cy="638" r="10"/><text x="665" y="642">Adamts2</text></g>
<g id="n-Nck2"><circle class="g1" cx="582" cy="645" r="4"/><text x="582" y="647">Nck2</text></g>
<g id="n-Rorc"><circle class="g1" cx="718" cy="652" r="10"/><text x="718" y="653">Rorc</text></g>
<g id="n-Acss1"><circle class="g1" cx="803" cy="655" r="4"/><text x="803" y="657">Acss1</text></g>
<g id="n-Bmp1"><circle class="r1" cx="620" cy="676" r="10"/><text x="620" y="678">Bmp1</text></g>
<g id="n-Nr4a2"><circle class="r1" cx="742" cy="686" r="4"/><text x="742" y="688">Nr4a2</text></g>
<g id="n-Fbxo24"><circle class="r3" cx="676" cy="691" r="10"/><text x="677" y="692">Fbxo24</text></g>
<g id="n-Aldh6a1"><circle class="g1" cx="803" cy="698" r="10"/><text x="803" y="700">Aldh6a1</text></g>
<g id="n-Ddx20"><circle class="g1" cx="537" cy="717" r="4"/><text x="537" y="720">Ddx20</text></g>
<g id="n-Cep63"><circle class="g1" cx="613" cy="715" r="7"/><text x="613" y="717">Cep63</text></g>
<g id="n-Arnt"><circle class="g1" cx="716" cy="715" r="4"/><text x="716" y="716">Arnt</text></g>
<g id="n-Thrb"><circle class="g1" cx="758" cy="723" r="4"/><text x="759" y="723">Thrb</text></g>
<g id="n-Sdccag8"><circle class="g1" cx="658" cy="733" r="4"/><text x="658" y="732">Sdccag8</text></g>
<g id="n-Tpr"><circle class="g1" cx="583" cy="739" r="10"/><text x="583" y="742">Tpr</text></g>
<g id="n-Plce1"><circle class="r1" cx="802" cy="737" r="4"/><text x="802" y="738">Plce1</text></g>
<g id="n-Ppap2a"><circle class="r1" cx="450" cy="728" r="4"/><text x="453" y="733">Ppap2a</text></g>
<g id="n-Sphk1"><circle class="r2" cx="475" cy="765" r="11"/><text x="475" y="767">Sphk1</text></g>
<g id="n-Nup210"><circle class="g1" cx="542" cy="767" r="4"/><text x="542" y="768">Nup210</text></g>
<g id="n-Tubgcp4"><circle class="g1" cx="623" cy="765" r="8"/><text x="623" y="767">Tubgcp4</text></g>
<g id="n-Epas1"><circle class="g1" cx="733" cy="757" r="11"/><text x="733" y="758">Epas1</text></g>
<g id="n-Itpr3"><circle class="g1" cx="802" cy="780" r="4"/><text x="802" y="782">Itpr3</text></g>
<g id="n-Egln3"><circle class="g1" cx="755" cy="793" r="4"/><text x="755" y="795">Egln3</text></g>
<g id="n-Acer1"><circle class="g1" cx="495" cy="802" r="4"/><text x="495" y="805">Acer1</text></g>
<g id="n-Rapgef4"><circle class="g1" cx="499" cy="831" r="4"/><text x="499" y="834">Rapgef4</text></g>
<g id="n-Kif23"><circle class="r1" cx="566" cy="833" r="4"/><text x="566" y="834">Kif23</text></g>
<g id="n-Dhdh"><circle class="g1" cx="626" cy="832" r="4"/><text x="626" y="835">Dhdh</text></g>
<g id="n-Cd63"><circle class="r1" cx="696" cy="833" r="4"/><text x="696" y="835">Cd63</text></g>
<g id="n-Pax9"><circle class="r2" cx="758" cy="832" r="10"/><text x="758" y="833">Pax9</text></g>
<g id="n-Kcnab3"><circle class="r1" cx="819" cy="833" r="4"/><text x="819" y="835">Kcnab3</text></g>
<g id="n-Rapgef3"><circle class="g1" cx="498" cy="875" r="4"/><text x="498" y="877">Rapgef3</text></g>
<g id="n-Ckap2"><circle class="r1" cx="565" cy="875" r="5"/><text x="565" y="877">Ckap2</text></g>
<g id="n-Akr1b8"><circle class="r2" cx="625" cy="877" r="11"/><text x="625" y="878">Akr1b8</text></g>
<g id="n-Lamp2"><circle class="r1" cx="697" cy="875" r="5"/><text x="697" y="878">Lamp2</text></g>
<g id="n-Bmp4"><circle class="r1" cx="757" cy="875" r="5"/><text x="757" y="877">Bmp4</text></g>
<g id="n-Panx1"><circle class="r1" cx="818" cy="876" r="7"/><text x="818" y="878">Panx1</text></g>
</g>
<g id="nodes-4w" class="n4">
<g id="m-Actn3"><circle class="w1" cx="1071" cy="360" r="8"/><text x="1071" y="363">Actn3</text></g>
<g id="m-Myoz1"><circle class="w2" cx="1124" cy="367" r="10"/><text x="1125" y="369">Myoz1</text></g>
<g id="m-Ttn"><circle class="w2" cx="983" cy="387" r="10"/><text x="983" y="388">Ttn</text></g>
<g id="m-Neb"><circle class="w1" cx="1028" cy="387" r="9"/><text x="1028" y="388">Neb</text></g>
<g id="m-Tnnt3"><circle class="w1" cx="1080" cy="393" r="10"/><text x="1080" y="395">Tnnt3</text></g>
<g id="m-Atp2a1"><circle class="w1" cx="1124" cy="412" r="6"/><text x="1124" y="414">Atp2a1</text></g>
<g id="m-Tnnc2"><circle class="w1" cx="1053" cy="426" r="10"/><text x="1053" y="427">Tnnc2</text></g>
<g id="m-Tnni2"><circle class="w2" cx="1000" cy="435" r="6"/><text x="1000" y="437">Tnni2</text></g>
<g id="m-Mybpc2"><circle class="w1" cx="1112" cy="445" r="10"/><text x="1112" y="447">Mybpc2</text></g>
<g id="m-Acta1"><circle class="w1" cx="1000" cy="473" r="10"/><text x="1000" y="474">Acta1</text></g>
<g id="m-Mylpf"><circle class="w1" cx="1103" cy="480" r="10"/><text x="1103" y="482">Mylpf</text></g>
<g id="m-Myl1"><circle class="w1" cx="1052" cy="492" r="10"/><text x="1052" y="493">Myl1</text></g>
<g id="m-Col5a2"><circle class="r1" cx="978" cy="527" r="4"/><text x="978" y="528">Col5a2</text></g>
<g id="m-Col6a1"><circle class="r1" cx="978" cy="577" r="4"/><text x="977" y="583">Col6a1</text></g>
<g id="m-Lum"><circle class="w4" cx="1031" cy="526" r="6"/><text x="1032" y="528">Lum</text></g>
<g id="m-Fmod"><circle class="w4" cx="1030" cy="582" r="9"/><text x="1030" y="583">Fmod</text></g>
<g id="m-Eno3"><circle class="w2" cx="1082" cy="528" r="8" style="fill:#2f8f2a"/><text x="1083" y="528">Eno3</text></g>
<g id="m-Pgam2"><circle class="w2" cx="1082" cy="582" r="9" style="fill:#2f8f2a"/><text x="1082" y="583">Pgam2</text></g>
<g id="m-Mmp3"><circle class="w3" cx="1138" cy="528" r="9"/><text x="1138" y="529">Mmp3</text></g>
<g id="m-Mmp2"><circle class="w3" cx="1137" cy="582" r="9"/><text x="1137" y="583">Mmp2</text></g>
</g>
<g id="legend">
<rect x="891" y="752" width="318" height="22" fill="url(#fc)" stroke="#888" stroke-width="0.8"/>
<text class="cb" x="893" y="749">-2.5</text>
<text class="cb" x="1057" y="749" text-anchor="middle">0.0</text>
<text class="cb" x="1183" y="749">2.5</text>
<text x="1050" y="794" text-anchor="middle" style="font-size:17px;fill:#111">log<tspan style="font-size:11px" dy="4">2</tspan><tspan dy="-4"> (fold change)</tspan></text>
</g>
</svg>
